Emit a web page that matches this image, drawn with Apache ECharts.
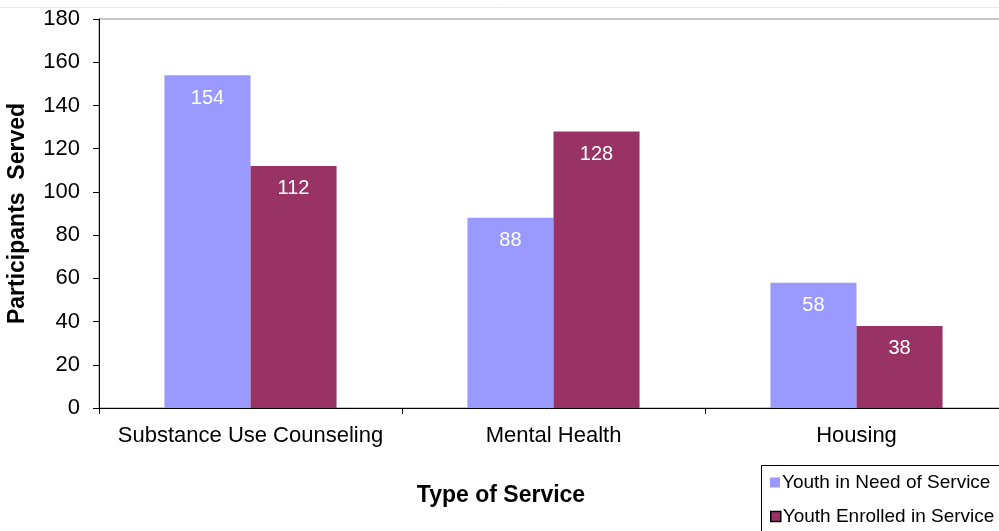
<!DOCTYPE html>
<html>
<head>
<meta charset="utf-8">
<style>
  html, body { margin: 0; padding: 0; background: #fff; }
  #chart { width: 999px; height: 531px; }
</style>
<script src="https://cdn.jsdelivr.net/npm/echarts@6/dist/echarts.min.js"></script>
</head>
<body>
<div id="chart"></div>
<script>
// Service types and participant counts
const categories = ['Substance Use Counseling', 'Mental Health', 'Housing'];
const seriesNames = ['Youth in Need of Service', 'Youth Enrolled in Service'];
const needValues = [154, 88, 58];
const enrolledValues = [112, 128, 38];
const yTicks = [0, 20, 40, 60, 80, 100, 120, 140, 160, 180];

const FONT = '"Liberation Sans", Arial, sans-serif';
const chart = echarts.init(document.getElementById('chart'), null, { renderer: 'canvas' });

const barLabel = {
  show: true,
  position: 'insideTop',
  distance: 13,
  color: '#fff',
  fontFamily: FONT,
  fontSize: 20
};

// One legend per row so the box may run past the bottom edge
const legendBase = {
  orient: 'vertical',
  left: 770,
  padding: 0,
  itemWidth: 10, itemHeight: 10,
  textStyle: { fontFamily: FONT, fontSize: 19, color: '#000', padding: [0, 0, 0, -3] }
};

chart.setOption({
  animation: false,
  backgroundColor: '#fff',
  textStyle: { fontFamily: FONT },
  grid: {
    left: 99, top: 19, bottom: 123, width: 909,
    outerBoundsMode: 'none',
    show: true, borderColor: '#8c8c8c', borderWidth: 1,
    containLabel: false
  },
  graphic: [
    {
      type: 'line', silent: true,
      shape: { x1: 0, y1: 7.5, x2: 999, y2: 7.5 },
      style: { stroke: '#e6e6e6', lineWidth: 1 }
    },
    {
      type: 'text', silent: true,
      x: 501, y: 496,
      style: {
        text: 'Type of Service',
        align: 'center', verticalAlign: 'middle',
        font: 'bold 23px ' + FONT, fill: '#000'
      }
    },
    {
      type: 'rect', silent: true, z: 0,
      shape: { x: 761.5, y: 465.5, width: 260, height: 80 },
      style: { fill: '#fff', stroke: '#000', lineWidth: 1 }
    }
  ],
  legend: [
    Object.assign({}, legendBase, {
      top: 473,
      data: [{ name: seriesNames[0], icon: 'rect' }]
    }),
    Object.assign({}, legendBase, {
      top: 507,
      data: [{ name: seriesNames[1], icon: 'rect', itemStyle: { borderColor: '#000', borderWidth: 1.5 } }]
    })
  ],
  xAxis: {
    type: 'category',
    data: categories,
    axisLine: { lineStyle: { color: '#000', width: 1 } },
    axisTick: { show: true, length: 6, lineStyle: { color: '#000' } },
    axisLabel: { color: '#000', fontSize: 22, margin: 17, fontFamily: FONT, interval: 0 }
  },
  yAxis: {
    type: 'value',
    min: 0, max: 180, interval: 20,
    name: 'Participants  Served',
    nameLocation: 'middle',
    nameGap: 70,
    nameRotate: 90,
    nameTextStyle: { fontWeight: 'bold', fontSize: 23, color: '#000', fontFamily: FONT },
    axisLine: { show: true, lineStyle: { color: '#000', width: 1 } },
    axisTick: { show: true, length: 6, inside: false, lineStyle: { color: '#000' } },
    splitLine: { show: false },
    axisLabel: {
      color: '#000', fontSize: 22, margin: 19, fontFamily: FONT,
      formatter: v => yTicks.includes(v) ? String(v) : ''
    }
  },
  series: [
    {
      name: seriesNames[0], type: 'bar', data: needValues,
      barGap: '0%', barCategoryGap: '43.2%',
      itemStyle: { color: '#9999ff' },
      label: barLabel
    },
    {
      name: seriesNames[1], type: 'bar', data: enrolledValues,
      barGap: '0%', barCategoryGap: '43.2%',
      itemStyle: { color: '#993366' },
      label: barLabel
    }
  ]
});
</script>
</body>
</html>
